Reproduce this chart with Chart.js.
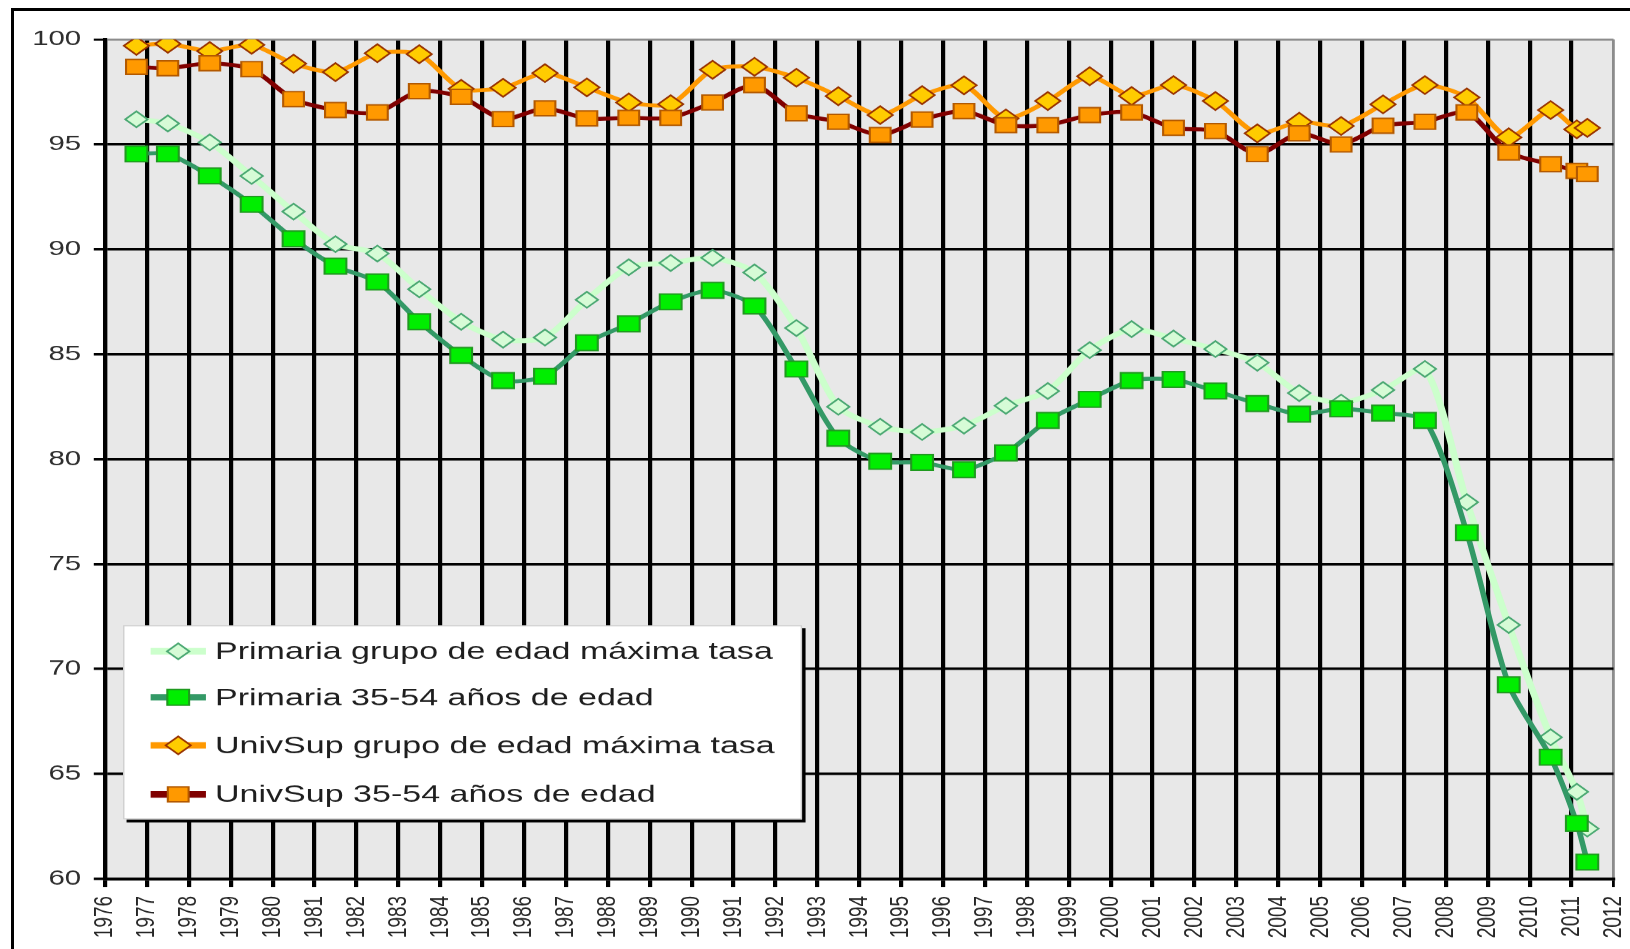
<!DOCTYPE html>
<html><head><meta charset="utf-8">
<script src="https://cdn.jsdelivr.net/npm/chart.js@4.4.1/dist/chart.umd.min.js"></script>
<style>
html,body{margin:0;padding:0;background:#fff;width:1630px;height:949px;overflow:hidden}
#frame{position:absolute;left:11px;top:8px;width:1700px;height:1000px;border-left:3px solid #000;border-top:3px solid #000;box-sizing:border-box}
#wrap{position:absolute;left:0;top:0;width:1165px;height:949px;transform:scaleX(1.4);transform-origin:0 0}
</style></head><body>
<div id="frame"></div>
<div id="wrap"><canvas id="c"></canvas></div>
<script>
const xPositions = [1976.75, 1977.5, 1978.5, 1979.5, 1980.5, 1981.5, 1982.5, 1983.5, 1984.5, 1985.5,
  1986.5, 1987.5, 1988.5, 1989.5, 1990.5, 1991.5, 1992.5, 1993.5, 1994.5, 1995.5,
  1996.5, 1997.5, 1998.5, 1999.5, 2000.5, 2001.5, 2002.5, 2003.5, 2004.5, 2005.5,
  2006.5, 2007.5, 2008.5, 2009.5, 2010.5, 2011.125, 2011.375];
const primariaMax = [96.2, 96.0, 95.1, 93.5, 91.8, 90.25, 89.8, 88.1, 86.55, 85.7,
  85.8, 87.6, 89.15, 89.35, 89.6, 88.9, 86.25, 82.5, 81.55, 81.3,
  81.6, 82.55, 83.25, 85.2, 86.2, 85.75, 85.25, 84.6, 83.15, 82.7,
  83.3, 84.3, 77.95, 72.1, 66.75, 64.15, 62.4];
const primaria3554 = [94.55, 94.55, 93.5, 92.15, 90.5, 89.2, 88.45, 86.55, 84.95, 83.75,
  83.95, 85.55, 86.45, 87.5, 88.05, 87.3, 84.3, 81.0, 79.9, 79.85,
  79.5, 80.3, 81.85, 82.85, 83.75, 83.8, 83.25, 82.65, 82.15, 82.4,
  82.2, 81.85, 76.5, 69.25, 65.8, 62.65, 60.8];
const univSupMax = [99.7, 99.8, 99.45, 99.75, 98.85, 98.45, 99.35, 99.3, 97.65, 97.7,
  98.4, 97.72, 97.0, 96.92, 98.56, 98.7, 98.18, 97.3, 96.4, 97.35,
  97.82, 96.24, 97.07, 98.25, 97.31, 97.83, 97.07, 95.53, 96.08, 95.88,
  96.91, 97.83, 97.24, 95.34, 96.64, 95.72, 95.79];
const univSup3554 = [98.7, 98.63, 98.87, 98.59, 97.16, 96.64, 96.53, 97.54, 97.27, 96.21,
  96.72, 96.24, 96.27, 96.27, 97.0, 97.83, 96.48, 96.08, 95.45, 96.19,
  96.59, 95.92, 95.92, 96.4, 96.53, 95.79, 95.64, 94.54, 95.53, 95.0,
  95.89, 96.08, 96.53, 94.62, 94.06, 93.74, 93.59];
const seriesLabels = ['Primaria grupo de edad máxima tasa', 'Primaria 35-54 años de edad',
  'UnivSup grupo de edad máxima tasa', 'UnivSup 35-54 años de edad'];
const yearTicks = [1976, 1977, 1978, 1979, 1980, 1981, 1982, 1983, 1984, 1985, 1986, 1987,
  1988, 1989, 1990, 1991, 1992, 1993, 1994, 1995, 1996, 1997, 1998, 1999, 2000, 2001,
  2002, 2003, 2004, 2005, 2006, 2007, 2008, 2009, 2010, 2011, 2012];
const valueTicks = [60, 65, 70, 75, 80, 85, 90, 95, 100];

const FONT = '"Liberation Sans", Arial, sans-serif';
const styles = [
  {line:'#ccffcc', width:5, point:'rectRot', r:8, fill:'#d6fbd6', stroke:'#4aa872', order:2},
  {line:'#339966', width:4, point:'rect', r:11, fill:'#00ee00', stroke:'#1f9a1f', order:0},
  {line:'#ff9900', width:4, point:'rectRot', r:9, fill:'#ffcc00', stroke:'#993300', order:3},
  {line:'#800000', width:4, point:'rect', r:10.5, fill:'#ff9900', stroke:'#b35900', order:1}
];
const values = [primariaMax, primaria3554, univSupMax, univSup3554];

const datasets = values.map((vals, i) => ({
  label: seriesLabels[i],
  data: xPositions.map((x, j) => ({x: x, y: vals[j]})),
  borderColor: styles[i].line,
  borderWidth: styles[i].width,
  pointStyle: styles[i].point,
  pointRadius: styles[i].r,
  pointBackgroundColor: styles[i].fill,
  pointBorderColor: styles[i].stroke,
  pointBorderWidth: 1.5,
  tension: 0.25,
  order: styles[i].order,
  fill: false
}));

function drawMarker(ctx, st, x, y) {
  ctx.beginPath();
  if (st.point === 'rectRot') {
    ctx.moveTo(x, y - st.r); ctx.lineTo(x + st.r, y); ctx.lineTo(x, y + st.r); ctx.lineTo(x - st.r, y); ctx.closePath();
  } else {
    const h = st.r * Math.SQRT1_2; ctx.rect(x - h, y - h, 2 * h, 2 * h);
  }
  ctx.fillStyle = st.fill; ctx.fill();
  ctx.lineWidth = 1.5; ctx.strokeStyle = st.stroke; ctx.stroke();
}

const bgPlugin = {
  id: 'bg',
  beforeDraw(chart) {
    const {ctx, chartArea: a} = chart;
    ctx.save(); ctx.fillStyle = '#e8e8e8';
    ctx.fillRect(a.left, a.top, a.right - a.left, a.bottom - a.top);
    ctx.restore();
  }
};
const legendPlugin = {
  id: 'boxLegend',
  afterDraw(chart) {
    const ctx = chart.ctx;
    const L = 87.9, T = 625, W = 485, H = 194;
    ctx.save();
    ctx.fillStyle = '#000';
    ctx.fillRect(L + 2.5, T + 3, W, H);
    ctx.fillStyle = '#fff';
    ctx.fillRect(L, T, W, H);
    ctx.strokeStyle = '#cfcfcf'; ctx.lineWidth = 1;
    ctx.strokeRect(L + 0.5, T + 0.5, W - 1, H - 1);
    const rows = [651, 697, 745, 794];
    chart.data.datasets.forEach((ds, i) => {
      const y = rows[i];
      const st = styles[i];
      ctx.beginPath(); ctx.moveTo(107.6, y); ctx.lineTo(147.1, y);
      ctx.strokeStyle = st.line; ctx.lineWidth = 6.5; ctx.stroke();
      drawMarker(ctx, st, 127.3, y);
      ctx.fillStyle = '#1e1e1e';
      ctx.font = '24.3px ' + FONT;
      ctx.textBaseline = 'middle'; ctx.textAlign = 'left';
      ctx.fillText(ds.label, 153.6, y + 1);
    });
    ctx.restore();
  }
};

new Chart(document.getElementById('c'), {
  type: 'line',
  data: {datasets: datasets},
  plugins: [bgPlugin, legendPlugin],
  options: {
    responsive: true, maintainAspectRatio: false, animation: false, devicePixelRatio: 1.4,
    layout: {padding: {left: 0, right: 10.4, top: 39.5, bottom: 0}},
    plugins: {legend: {display: false}, tooltip: {enabled: false}},
    scales: {
      x: {
        type: 'linear', min: 1976, max: 2012,
        afterBuildTicks: s => { s.ticks = yearTicks.map(v => ({value: v})); },
        afterFit: s => { s.height = 70.5; s.paddingLeft = 0; s.paddingRight = 0; },
        ticks: {autoSkip: false, maxRotation: 90, minRotation: 90, padding: 9, color: '#262626',
          font: {family: FONT, size: 19}, callback: v => String(v)},
        grid: {
          color: c => (c.tick && c.tick.value === 2012) ? '#8c8c8c' : '#000',
          lineWidth: c => (c.tick && c.tick.value === 2012) ? 2 : 3,
          tickColor: '#000', tickLength: 8
        },
        border: {display: true, color: '#000', width: 3}
      },
      y: {
        min: 60, max: 100,
        afterBuildTicks: s => { s.ticks = valueTicks.map(v => ({value: v})); },
        afterFit: s => { s.width = 75; s.paddingTop = 0; s.paddingBottom = 0; },
        ticks: {padding: 9, color: '#2e2e2e', font: {family: FONT, size: 21}, callback: v => String(v)},
        grid: {
          color: c => (c.tick && c.tick.value === 100) ? '#8c8c8c' : '#000',
          lineWidth: c => (c.tick && c.tick.value === 100) ? 2 : 2.5,
          tickColor: '#000', tickLength: 8
        },
        border: {display: true, color: '#000', width: 3}
      }
    }
  }
});
</script></body></html>
